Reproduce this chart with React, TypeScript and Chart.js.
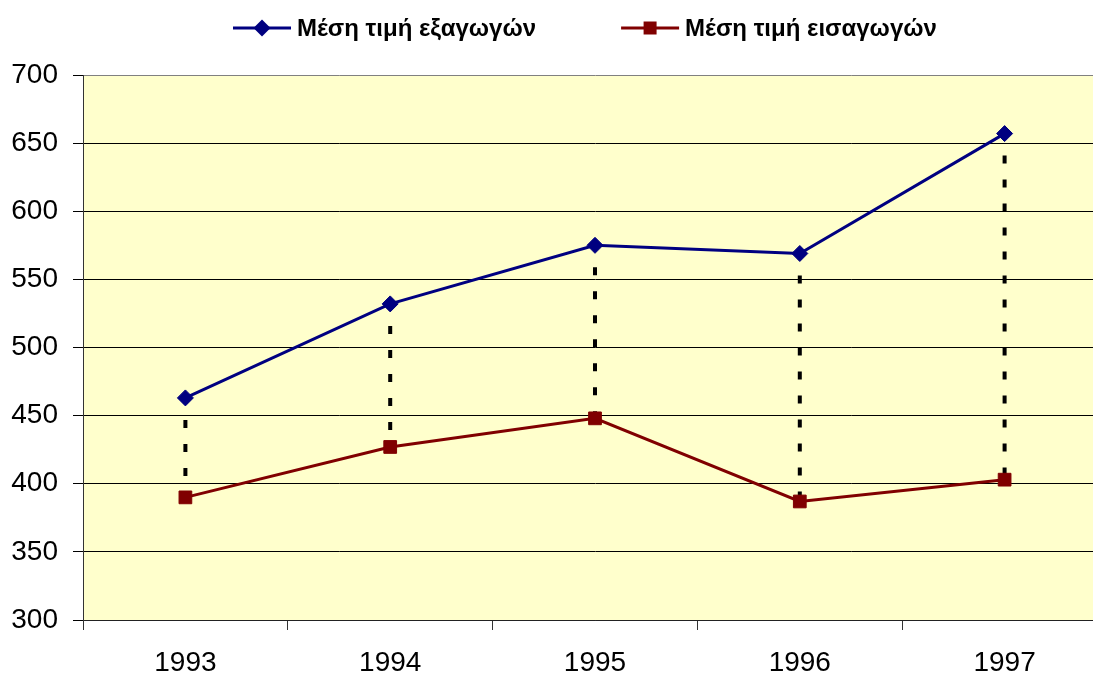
import React, { useEffect, useRef } from "react";
import { Chart, registerables } from "chart.js";

Chart.register(...registerables);

const years = ["1993", "1994", "1995", "1996", "1997"];
const exportPrices = [463, 532, 575, 569, 657];
const importPrices = [390, 427, 448, 387, 403];
const seriesNames = ["Μέση τιμή εξαγωγών", "Μέση τιμή εισαγωγών"];
const seriesColors = ["#000080", "#800000"];
const seriesMarkers = ["rectRot", "rect"];
const yMin = 300;
const yMax = 700;
const yStep = 50;

const FONT = "'Liberation Sans', Arial, sans-serif";
const CANVAS_W = 1117;

const plotBackground = {
  id: "plotBackground",
  beforeDraw(chart: any) {
    const { ctx, chartArea } = chart;
    ctx.save();
    ctx.fillStyle = "#FFFFCC";
    ctx.fillRect(chartArea.left, chartArea.top, chartArea.right - chartArea.left, chartArea.bottom - chartArea.top);
    ctx.restore();
  },
};

const dropLines = {
  id: "dropLines",
  beforeDatasetsDraw(chart: any) {
    const { ctx } = chart;
    const a = chart.getDatasetMeta(0).data;
    const b = chart.getDatasetMeta(1).data;
    ctx.save();
    ctx.strokeStyle = "#000000";
    ctx.lineWidth = 4;
    ctx.setLineDash([8, 16]);
    ctx.lineDashOffset = 2;
    for (let i = 0; i < a.length; i++) {
      const top = Math.min(a[i].y, b[i].y);
      const bot = Math.max(a[i].y, b[i].y);
      ctx.beginPath();
      ctx.moveTo(a[i].x, top);
      ctx.lineTo(a[i].x, bot);
      ctx.stroke();
    }
    ctx.restore();
  },
};

function drawMarker(ctx: CanvasRenderingContext2D, style: string, x: number, y: number, color: string) {
  ctx.fillStyle = color;
  ctx.beginPath();
  if (style === "rectRot") {
    const r = 8.5;
    ctx.moveTo(x - r, y);
    ctx.lineTo(x, y - r);
    ctx.lineTo(x + r, y);
    ctx.lineTo(x, y + r);
    ctx.closePath();
  } else {
    const s = 6.5;
    ctx.rect(x - s, y - s, 2 * s, 2 * s);
  }
  ctx.fill();
}

const customLegend = {
  id: "customLegend",
  afterDraw(chart: any) {
    const { ctx } = chart;
    ctx.save();
    ctx.font = `bold 24px ${FONT}`;
    ctx.textBaseline = "middle";
    ctx.textAlign = "left";
    const y = 28;
    let x = 233;
    for (let i = 0; i < seriesNames.length; i++) {
      ctx.strokeStyle = seriesColors[i];
      ctx.lineWidth = 3;
      ctx.beginPath();
      ctx.moveTo(x, y);
      ctx.lineTo(x + 58, y);
      ctx.stroke();
      drawMarker(ctx, seriesMarkers[i], x + 29, y, seriesColors[i]);
      ctx.fillStyle = "#000000";
      const tx = x + 64;
      ctx.fillText(seriesNames[i], tx, y + 1);
      x = tx + ctx.measureText(seriesNames[i]).width + 85;
    }
    ctx.restore();
  },
};

export default function App() {
  const ref = useRef<HTMLCanvasElement | null>(null);

  useEffect(() => {
    if (!ref.current) return;
    const chart = new Chart(ref.current, {
      type: "line",
      data: {
        labels: years,
        datasets: [
          {
            label: seriesNames[0],
            data: exportPrices,
            borderColor: seriesColors[0],
            backgroundColor: seriesColors[0],
            borderWidth: 3,
            pointStyle: "rectRot",
            pointRadius: 8,
            pointBorderWidth: 1,
            pointBackgroundColor: seriesColors[0],
            pointBorderColor: seriesColors[0],
            tension: 0,
          },
          {
            label: seriesNames[1],
            data: importPrices,
            borderColor: seriesColors[1],
            backgroundColor: seriesColors[1],
            borderWidth: 3,
            pointStyle: "rect",
            pointRadius: 9,
            pointBorderWidth: 1,
            pointBackgroundColor: seriesColors[1],
            pointBorderColor: seriesColors[1],
            tension: 0,
          },
        ],
      },
      options: {
        responsive: false,
        animation: false,
        layout: { padding: { top: 75, left: 0, right: 3, bottom: 0 } },
        plugins: {
          legend: { display: false },
          tooltip: { enabled: false },
        },
        scales: {
          x: {
            offset: true,
            grid: {
              offset: true,
              drawOnChartArea: false,
              drawTicks: true,
              tickLength: 10,
              tickColor: "#333333",
            },
            border: { color: "#222222", width: 1 },
            ticks: {
              color: "#000000",
              font: { family: FONT, size: 28 },
              padding: 16,
              maxRotation: 0,
            },
            afterFit(scale: any) {
              scale.height = 56;
            },
          },
          y: {
            min: yMin,
            max: yMax,
            grid: {
              color: (c: any) => (c.tick && c.tick.value === yMax ? "#808080" : "#000000"),
              lineWidth: 1,
              tickLength: 10,
              tickColor: "#000000",
            },
            border: { color: "#333333", width: 1 },
            ticks: {
              stepSize: yStep,
              color: "#000000",
              font: { family: FONT, size: 28 },
              padding: 15,
            },
            afterFit(scale: any) {
              scale.width = 83;
            },
          },
        },
      },
      plugins: [plotBackground, dropLines, customLegend],
    });
    return () => chart.destroy();
  }, []);

  return (
    <div style={{ position: "absolute", left: 0, top: 0, width: 1093, height: 676, overflow: "hidden", background: "#ffffff" }}>
      <canvas ref={ref} width={CANVAS_W} height={676} style={{ display: "block", width: CANVAS_W, height: 676 }} />
    </div>
  );
}
